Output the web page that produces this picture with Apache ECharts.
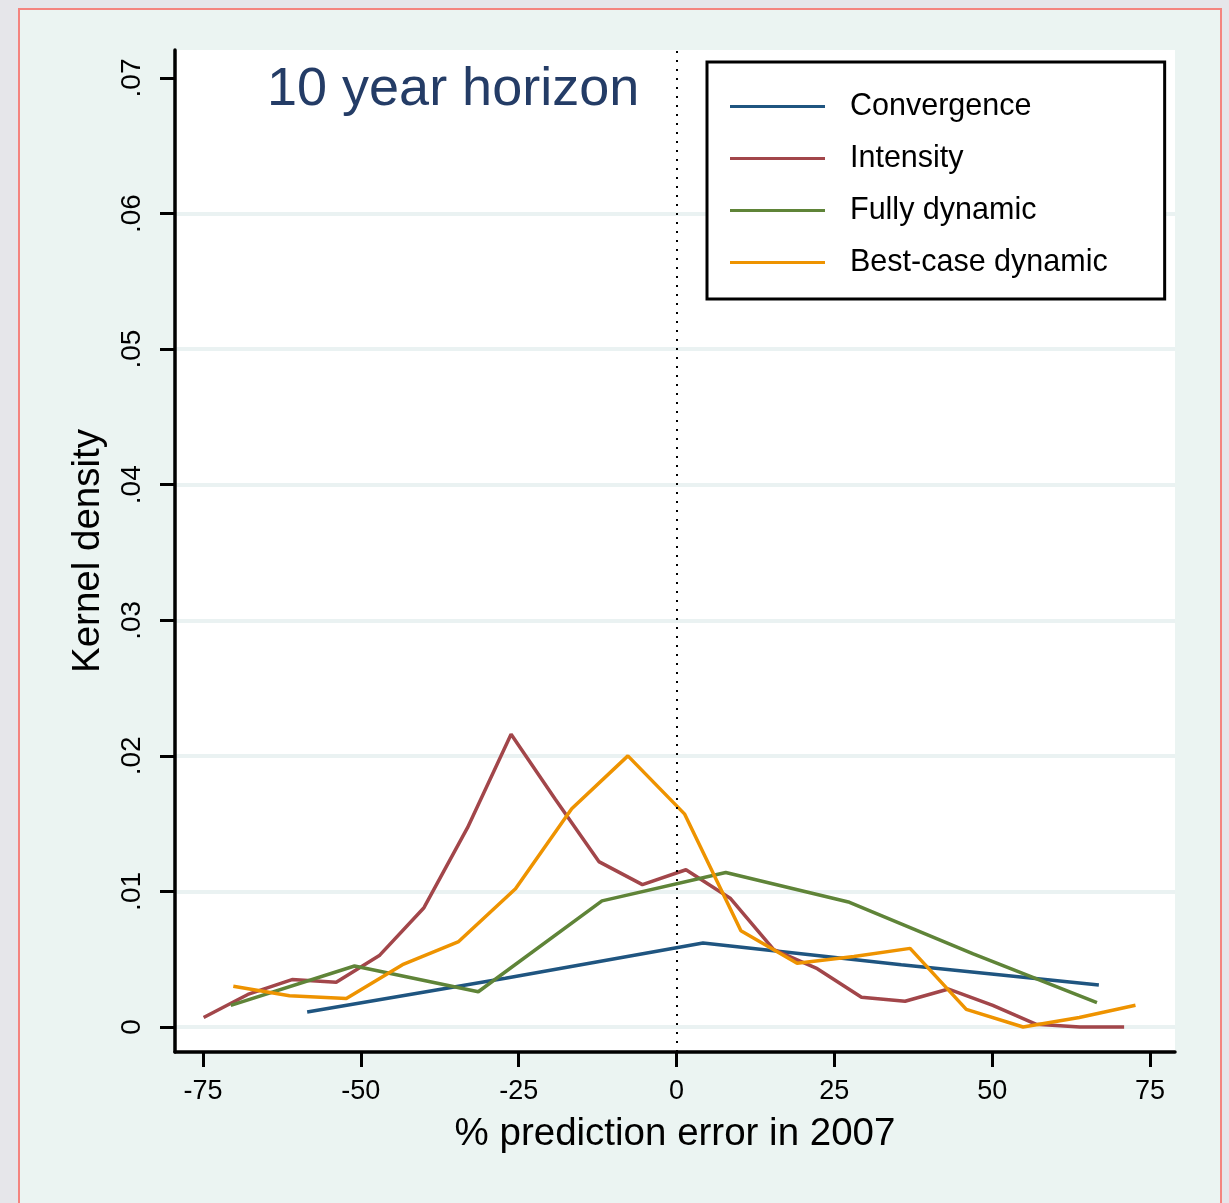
<!DOCTYPE html>
<html>
<head>
<meta charset="utf-8">
<title>10 year horizon</title>
<script src="https://cdn.jsdelivr.net/npm/echarts@6/dist/echarts.min.js"></script>
<style>
  html, body { margin: 0; padding: 0; background: #e6e6ea; }
  #frame {
    position: absolute; left: 18px; top: 8px; width: 1200px; height: 1210px;
    background: #ebf4f2; border: 2px solid #f4847f;
  }
  #chart { position: absolute; left: 0; top: 0; width: 1229px; height: 1203px; }
</style>
</head>
<body>
<div id="frame"></div>
<div id="chart"></div>
<script>
// Kernel density of % prediction error in 2007, by model
const convergenceX = [-58.5, -27.1, 4.2, 35.6, 66.9];
const convergenceY = [0.0011, 0.0036, 0.0062, 0.0046, 0.0031];

const intensityX = [-74.9, -67.9, -60.9, -53.9, -47.0, -40.0, -33.1, -26.2, -19.2, -12.3, -5.4,
                    1.5, 8.5, 15.4, 22.3, 29.3, 36.2, 43.1, 50.1, 57.0, 63.9, 70.9];
const intensityY = [0.0007, 0.0024, 0.0035, 0.0033, 0.0053, 0.0088, 0.0147, 0.0216, 0.0168, 0.0122, 0.0105,
                    0.0116, 0.0095, 0.0057, 0.0043, 0.0022, 0.0019, 0.0028, 0.0016, 0.0002, 0.0000, 0.0000];

const fullyX = [-70.6, -51.0, -31.4, -11.8, 7.8, 27.4, 47.0, 66.6];
const fullyY = [0.0016, 0.0045, 0.0026, 0.0093, 0.0114, 0.0092, 0.0054, 0.0018];

const bestX = [-70.2, -61.3, -52.3, -43.4, -34.5, -25.5, -16.6, -7.7, 1.3, 10.2, 19.1, 28.1, 37.0,
               45.9, 54.9, 63.8, 72.7];
const bestY = [0.0030, 0.0023, 0.0021, 0.0046, 0.0063, 0.0102, 0.0161, 0.0200, 0.0157, 0.0071, 0.0047,
               0.0052, 0.0058, 0.0013, 0.0000, 0.0007, 0.0016];

const seriesNames = ['Convergence', 'Intensity', 'Fully dynamic', 'Best-case dynamic'];
const seriesColors = ['#1f5580', '#a2464a', '#5f8438', '#ee9300'];

const xTicks = [-75, -50, -25, 0, 25, 50, 75];
const yTicks = [0, 0.01, 0.02, 0.03, 0.04, 0.05, 0.06, 0.07];
const yTickLabels = ['0', '.01', '.02', '.03', '.04', '.05', '.06', '.07'];

const titleText = '10 year horizon';
const xAxisTitle = '% prediction error in 2007';
const yAxisTitle = 'Kernel density';

function pairs(xs, ys) {
  return xs.map((x, i) => [x, ys[i]]);
}

const font = 'Liberation Sans, Arial, Helvetica, sans-serif';
const chart = echarts.init(document.getElementById('chart'), null, { renderer: 'canvas' });

const seriesData = [
  pairs(convergenceX, convergenceY),
  pairs(intensityX, intensityY),
  pairs(fullyX, fullyY),
  pairs(bestX, bestY)
];

const series = seriesData.map((data, i) => ({
  name: seriesNames[i],
  type: 'line',
  data: data,
  symbol: 'none',
  smooth: false,
  z: 3,
  lineStyle: { color: seriesColors[i], width: 3.5 },
  itemStyle: { color: seriesColors[i] },
  emphasis: { disabled: true }
}));

// dotted reference line at zero error
series[0].markLine = {
  silent: true,
  symbol: 'none',
  label: { show: false },
  lineStyle: { color: '#000', type: [2, 7], width: 2 },
  emphasis: { disabled: true },
  data: [{ xAxis: 0 }]
};

// no grid line along the top tick
const gridLineColors = yTicks.map((t, i) => (i === yTicks.length - 1 ? '#ffffff' : '#eaf2f2'));

chart.setOption({
  animation: false,
  backgroundColor: 'transparent',
  textStyle: { fontFamily: font },
  title: {
    text: titleText,
    left: 267,
    top: 63,
    padding: 0,
    textStyle: { fontFamily: font, fontSize: 54, fontWeight: 'normal', color: '#243c66' }
  },
  legend: {
    orient: 'vertical',
    left: 707,
    top: 62,
    padding: [29, 57, 21, 23],
    itemGap: 21,
    itemWidth: 95,
    itemHeight: 3,
    icon: 'rect',
    backgroundColor: '#ffffff',
    borderColor: '#000000',
    borderWidth: 3,
    borderRadius: 0,
    selectedMode: false,
    textStyle: { fontFamily: font, fontSize: 30.5, color: '#000', padding: [0, 0, 0, 20] },
    data: seriesNames
  },
  grid: {
    left: 175,
    right: 54,
    top: 50,
    bottom: 151,
    show: true,
    backgroundColor: '#ffffff',
    borderWidth: 0
  },
  xAxis: {
    type: 'value',
    min: -79.435,
    max: 78.96,
    name: xAxisTitle,
    nameLocation: 'middle',
    nameGap: 63,
    nameTextStyle: { fontFamily: font, fontSize: 38.5, color: '#000' },
    axisLine: { show: true, onZero: false, lineStyle: { color: '#000', width: 3.5 } },
    axisTick: { show: true, inside: false, length: 15, lineStyle: { color: '#000', width: 3 }, customValues: xTicks },
    axisLabel: { customValues: xTicks, margin: 26, fontFamily: font, fontSize: 27, color: '#000',
                 formatter: (v) => String(v) },
    splitLine: { show: false }
  },
  yAxis: {
    type: 'value',
    min: -0.001844,
    max: 0.072065,
    name: yAxisTitle,
    nameLocation: 'middle',
    nameGap: 67,
    nameRotate: 90,
    nameTextStyle: { fontFamily: font, fontSize: 38.5, color: '#000' },
    axisLine: { show: true, onZero: false, lineStyle: { color: '#000', width: 3.5 } },
    axisTick: { show: true, inside: false, length: 15, lineStyle: { color: '#000', width: 3 }, customValues: yTicks },
    axisLabel: {
      customValues: yTicks,
      rotate: 90,
      margin: 29,
      fontFamily: font,
      fontSize: 28,
      color: '#000',
      formatter: (v) => {
        const i = yTicks.findIndex((t) => Math.abs(t - v) < 1e-9);
        return i >= 0 ? yTickLabels[i] : '';
      }
    },
    splitLine: { show: true, lineStyle: { color: gridLineColors, width: 4 } }
  },
  series: series
});
</script>
</body>
</html>
